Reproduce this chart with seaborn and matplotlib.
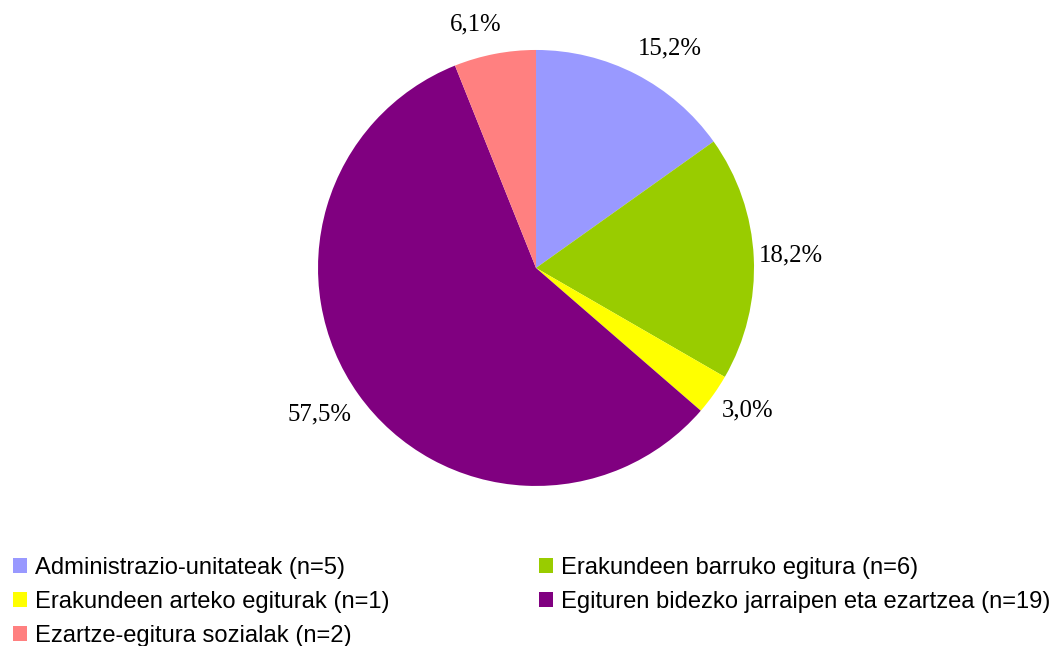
import matplotlib
matplotlib.use("Agg")
import matplotlib.pyplot as plt
import seaborn as sns
import numpy as np
from matplotlib.patches import Patch

categories = ["Administrazio-unitateak (n=5)", "Erakundeen barruko egitura (n=6)",
              "Erakundeen arteko egiturak (n=1)", "Egituren bidezko jarraipen eta ezartzea (n=19)",
              "Ezartze-egitura sozialak (n=2)"]
counts = [5, 6, 1, 19, 2]
pct_labels = ["15,2%", "18,2%", "3,0%", "57,5%", "6,1%"]
colors = ["#9999FF", "#99CC00", "#FFFF00", "#800080", "#FF8080"]

sns.set_theme(style="white")

fig = plt.figure(figsize=(10.59, 6.46), dpi=100)
ax = fig.add_axes([0.3003, 0.2477, 0.4117, 0.675])

wedges, texts = ax.pie(counts, colors=colors, labels=pct_labels, startangle=90,
                       counterclock=False, labeldistance=1.18,
                       wedgeprops=dict(linewidth=0),
                       textprops=dict(fontfamily="Liberation Serif", fontsize=17.8, color="black"))
# nudge labels a little, like the best-fit placement in the original
label_dist = [1.18, 1.17, 1.17, 1.2, 1.15]
label_shift = [-4, 0, 1.5, -1.5, 3]
for w, t, d, s in zip(wedges, texts, label_dist, label_shift):
    ang = np.deg2rad((w.theta1 + w.theta2) / 2 + s)
    t.set_position((d * np.cos(ang), d * np.sin(ang)))
    t.set_ha("center")
    t.set_va("center")
ax.set_aspect("equal")
ax.set_xlim(-1, 1)
ax.set_ylim(-1, 1)

# legend: column-first order so rows read like the original
order = [0, 2, 4, 1, 3]
handles = [Patch(facecolor=colors[i], edgecolor="none") for i in order]
labels = [categories[i] for i in order]
fig.legend(handles, labels, loc="upper left", bbox_to_anchor=(0.012, 0.138),
           bbox_transform=fig.transFigure, ncol=2, frameon=False,
           prop=dict(family="Liberation Sans", size=17.1), labelcolor="black",
           handlelength=0.62, handleheight=0.62, handletextpad=0.3,
           labelspacing=0.5, columnspacing=6.3, borderpad=0, borderaxespad=0)

fig.savefig("out.png", dpi=100, facecolor="white")
